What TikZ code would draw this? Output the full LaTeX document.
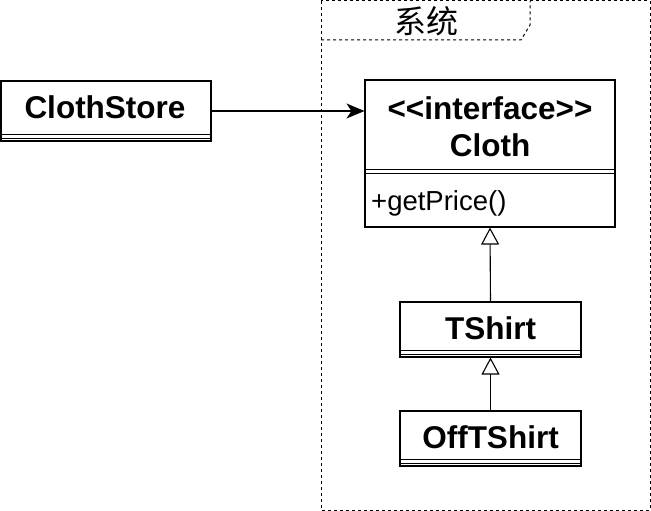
\documentclass[tikz,border=0pt]{standalone}
\usepackage{fontspec}
\setmainfont{Liberation Sans}
\newfontfamily\cjk{Noto Sans CJK SC}
\usetikzlibrary{arrows.meta}
\tikzset{
  x=1pt,y=-1pt,
  box/.style={draw=black,line width=1.1pt,fill=white,inner sep=0pt},
  bt/.style={font=\fontsize{31.5}{34}\selectfont\bfseries,inner sep=0pt},
  rt/.style={font=\fontsize{27.5}{31}\selectfont,inner sep=0pt},
  pkg/.style={draw=black,line width=1pt,dash pattern=on 3pt off 3pt},
  conn/.style={draw=black,line width=1.1pt},
  assoc/.style={conn,-{Stealth[length=18pt,width=15pt,inset=5pt]}},
  inher/.style={conn,-{Triangle[open,length=17pt,width=18pt,fill=white]}},
}
\begin{document}
\begin{tikzpicture}
\useasboundingbox (0,0) rectangle (651,511);
% package frame
\draw[pkg] (321,1) rectangle (650,510);
\draw[pkg] (321,40) -- (521,40) -- (530,25) -- (530,1);
\node[font=\cjk\fontsize{32}{34}\selectfont,inner sep=0pt] (pkglabel) at (426,21) {系统};
% ClothStore
\node[box,minimum width=210pt,minimum height=60pt] (cs) at (106,111) {};
\node[bt] (cst) at (105,107) {ClothStore};
\draw[conn] ([yshift=7pt]cs.south west) -- ([yshift=7pt]cs.south east);
\draw[conn] ([yshift=3.5pt]cs.south west) -- ([yshift=3.5pt]cs.south east);
% Cloth
\node[box,minimum width=250pt,minimum height=147pt] (cloth) at (490,153.5) {};
\node[bt] (clt1) at (490,108) {<{}<interface>{}>};
\node[bt] (clt2) at (490,145) {Cloth};
\draw[conn] ([yshift=-90pt]cloth.north west) -- ([yshift=-90pt]cloth.north east);
\draw[conn] ([yshift=-94pt]cloth.north west) -- ([yshift=-94pt]cloth.north east);
\node[rt,anchor=west] (getp) at (371,203) {+getPrice()};
% TShirt
\node[box,minimum width=181pt,minimum height=55pt] (ts) at (490.5,329.5) {};
\node[bt] (tst) at (490.5,328) {TShirt};
\draw[conn] ([yshift=7pt]ts.south west) -- ([yshift=7pt]ts.south east);
\draw[conn] ([yshift=3.5pt]ts.south west) -- ([yshift=3.5pt]ts.south east);
% OffTShirt
\node[box,minimum width=181pt,minimum height=55pt] (ots) at (490.5,438.5) {};
\node[bt] (otst) at (490.5,437) {OffTShirt};
\draw[conn] ([yshift=7pt]ots.south west) -- ([yshift=7pt]ots.south east);
\draw[conn] ([yshift=3.5pt]ots.south west) -- ([yshift=3.5pt]ots.south east);
% connectors
\draw[assoc] (cs.east) -- (cs.east -| cloth.west);
\draw[inher] (ts.north) -- (cloth.south);
\draw[inher] (ots.north) -- (ts.south);
\end{tikzpicture}
\end{document}
